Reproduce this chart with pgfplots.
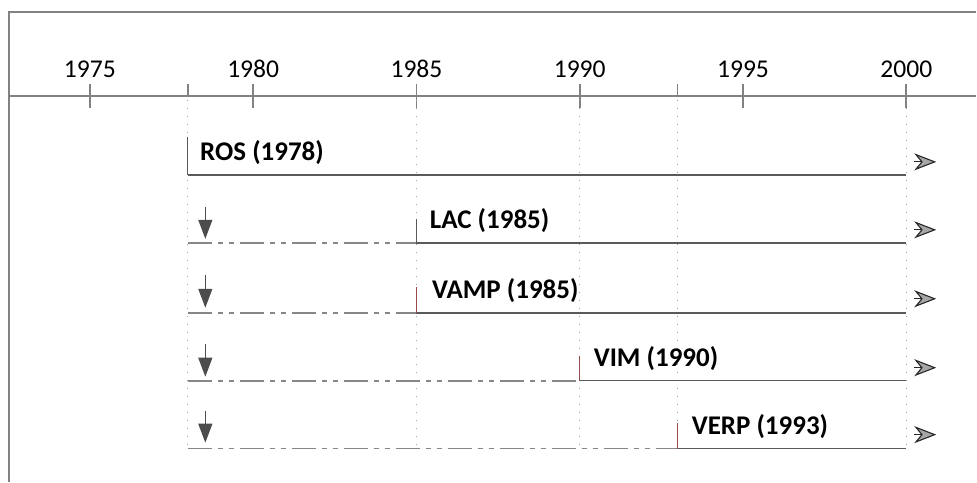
\documentclass[border=0pt]{standalone}
\usepackage{pgfplots}
\pgfplotsset{compat=1.18}
\usetikzlibrary{arrows.meta}
\usepackage{fontspec}
\setmainfont{Carlito}
\definecolor{framegray}{RGB}{130,130,130}
\definecolor{linegray}{RGB}{90,90,90}
\definecolor{dashgray}{RGB}{135,135,135}
\definecolor{dotgray}{RGB}{160,160,160}
\definecolor{markred}{RGB}{150,75,75}
\tikzset{
  downarrow/.style={black!70, line width=0.6pt, -{Triangle[length=9.5pt,width=7pt]}},
  rightarrow/.style={black!85, line width=0.55pt, -{Stealth[length=11pt,width=8.5pt,inset=3.5pt,fill=black!35]}},
  ticklab/.style={anchor=base, font=\fontsize{12.8}{15}\selectfont, inner sep=0pt},
  rowlab/.style={anchor=base west, inner sep=0pt, font=\bfseries\fontsize{13.5}{16}\selectfont},
}
\begin{document}
\begin{tikzpicture}
\begin{axis}[
  scale only axis, width=488.5pt, height=241pt,
  xmin=1972.246, xmax=2002.142, ymin=0, ymax=482, y dir=reverse,
  hide axis, clip=false, unbounded coords=jump,
]
\addplot[draw=none] coordinates {(1972.246,0) (2002.142,482)};
% frame (left and top)
\addplot[framegray, line width=0.8pt] coordinates {(1972.52,482) (1972.52,12) (2002.142,12)};
% time axis
\addplot[framegray, line width=0.8pt] coordinates {(1972.52,96) (2002.142,96)};
% ticks
\addplot[framegray, line width=0.8pt] coordinates {
 (1975,84) (1975,108) (1975,nan)
 (1980,84) (1980,108) (1980,nan)
 (1985,84) (1985,108) (1985,nan)
 (1990,84) (1990,108) (1990,nan)
 (1995,84) (1995,108) (1995,nan)
 (2000,84) (2000,108) (2000,nan)
 (1978,84) (1978,96) (1978,nan)
 (1993,84) (1993,96)};
% dotted guide lines
\addplot[dotgray, line width=0.6pt, dash pattern=on 0.75pt off 3.25pt] coordinates {
 (1978,100) (1978,450) (1978,nan)
 (1985,100) (1985,450) (1985,nan)
 (1990,100) (1990,450) (1990,nan)
 (1993,100) (1993,450) (1993,nan)
 (2000,100) (2000,450)};
% dash-dot-dot pre-existence lines
\addplot[dashgray, line width=0.85pt, dash pattern=on 12pt off 3pt on 2.5pt off 3pt on 2.5pt off 3pt] coordinates {
 (1978,243) (1985,243) (1985,nan)
 (1978,313) (1985,313) (1985,nan)
 (1978,381) (1990,381) (1990,nan)
 (1978,449) (1993,449)};
% solid lifelines
\addplot[linegray, line width=0.8pt] coordinates {
 (1978,175) (2000,175) (2000,nan)
 (1985,243) (2000,243) (2000,nan)
 (1985,313) (2000,313) (2000,nan)
 (1990,381) (2000,381) (2000,nan)
 (1993,449) (2000,449)};
% start marks
\addplot[linegray, line width=0.6pt] coordinates {(1978,137) (1978,175) (1978,nan) (1985,219) (1985,243)};
\addplot[markred, line width=0.75pt] coordinates {(1985,287) (1985,313) (1985,nan) (1990,356) (1990,381) (1990,nan) (1993,423) (1993,449)};
% down arrows
\addplot[downarrow] coordinates {(1978.534,207) (1978.534,239)};
\addplot[downarrow] coordinates {(1978.534,275) (1978.534,308)};
\addplot[downarrow] coordinates {(1978.534,344) (1978.534,377)};
\addplot[downarrow] coordinates {(1978.534,411) (1978.534,443)};
% right arrows
\addplot[rightarrow] coordinates {(2000.245,162) (2000.918,162)};
\addplot[rightarrow] coordinates {(2000.245,230) (2000.918,230)};
\addplot[rightarrow] coordinates {(2000.245,299) (2000.918,299)};
\addplot[rightarrow] coordinates {(2000.245,368) (2000.918,368)};
\addplot[rightarrow] coordinates {(2000.245,435) (2000.918,435)};
% tick labels
\node[ticklab] at (axis cs:1975,78) {1975};
\node[ticklab] at (axis cs:1980,78) {1980};
\node[ticklab] at (axis cs:1985,78) {1985};
\node[ticklab] at (axis cs:1990,78) {1990};
\node[ticklab] at (axis cs:1995,78) {1995};
\node[ticklab] at (axis cs:2000,78) {2000};
% row labels
\node[rowlab] at (axis cs:1978.366,161) {ROS (1978)};
\node[rowlab] at (axis cs:1985.40,229) {LAC (1985)};
\node[rowlab] at (axis cs:1985.465,299) {VAMP (1985)};
\node[rowlab] at (axis cs:1990.42,367) {VIM (1990)};
\node[rowlab] at (axis cs:1993.42,435) {VERP (1993)};
\end{axis}
\end{tikzpicture}
\end{document}
